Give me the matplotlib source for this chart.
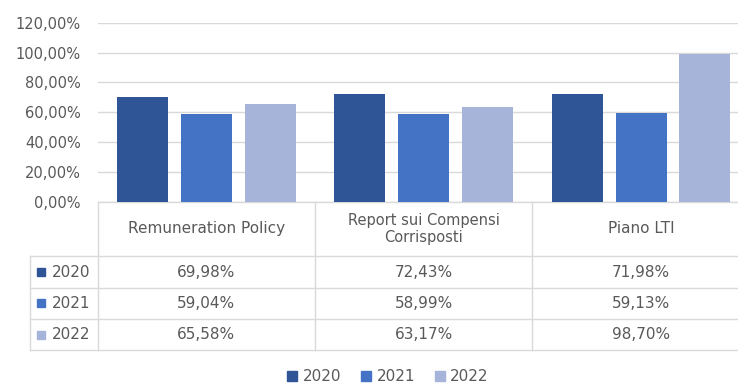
import matplotlib.pyplot as plt
import matplotlib.transforms as mtransforms
from matplotlib.patches import Rectangle

categories = ["Remuneration Policy", "Report sui Compensi\nCorrisposti", "Piano LTI"]
years = ["2020", "2021", "2022"]
v2020 = [69.98, 72.43, 71.98]
v2021 = [59.04, 58.99, 59.13]
v2022 = [65.58, 63.17, 98.70]
yticks = [0, 20, 40, 60, 80, 100, 120]

series = [v2020, v2021, v2022]
colors = ["#2F5597", "#4472C4", "#A5B4D8"]
text_col = "#595959"
grid_col = "#D9D9D9"

plt.rcParams['font.family'] = ['DejaVu Sans']


def pct(v):
    return f"{v:.2f}%".replace(".", ",")


fig = plt.figure(figsize=(7.38, 3.85), dpi=100)
# plot area runs a little past the right edge, as in the cropped original
ax = fig.add_axes([97.5 / 738, 1 - 201.7 / 385, 652.25 / 738, 179 / 385])

n = len(categories)
step = 0.294
width = 0.2345
for i, (vals, col) in enumerate(zip(series, colors)):
    xs = [c + (i - 1) * step for c in range(n)]
    ax.bar(xs, vals, width=width, color=col, zorder=3)

ax.set_xlim(-0.5, n - 0.5)
ax.set_ylim(0, 120)
ax.set_yticks(yticks)
ax.set_yticklabels([pct(t) for t in yticks])
ax.tick_params(axis='y', length=0, pad=12, labelsize=10.5, labelcolor=text_col)
ax.set_xticks([])
ax.grid(axis='y', color=grid_col, linewidth=1, zorder=0)
for s in ax.spines.values():
    s.set_visible(False)

# data table under the plot
row_edges = [0, -0.3034, -0.4821, -0.6553, -0.8285]
trans = mtransforms.blended_transform_factory(ax.transData, ax.transAxes)
lkw = dict(color=grid_col, linewidth=1, clip_on=False)

# horizontal lines
ax.plot([-0.5, n - 0.5], [0, 0], transform=trans, **lkw)
left_lbl = -0.5 - 67.5 / 217.5
for y in row_edges[1:]:
    ax.plot([left_lbl, n - 0.5], [y, y], transform=trans, **lkw)
# vertical lines
for c in range(n + 1):
    ax.plot([c - 0.5, c - 0.5], [0, row_edges[-1]], transform=trans, **lkw)
ax.plot([left_lbl, left_lbl], [row_edges[1], row_edges[-1]], transform=trans, **lkw)

# header
hy = (row_edges[0] + row_edges[1]) / 2
for c, name in enumerate(categories):
    fs = 10.5 if "\n" in name else 11
    ax.text(c, hy, name, transform=trans, ha='center', va='center',
            fontsize=fs, color=text_col)

# rows
for r, (yr, vals, col) in enumerate(zip(years, series, colors)):
    yc = (row_edges[r + 1] + row_edges[r + 2]) / 2
    mx = -0.5 - 56.5 / 217.5
    ax.add_patch(Rectangle((mx - 3.8 / 217.5, yc - 4 / 179), 8 / 217.5, 8 / 179,
                           transform=trans, color=col, clip_on=False))
    ax.text(-0.5 - 45.5 / 217.5, yc, yr, transform=trans, ha='left', va='center',
            fontsize=11, color=text_col)
    for c, v in enumerate(vals):
        ax.text(c, yc, pct(v), transform=trans, ha='center', va='center',
                fontsize=11, color=text_col)

# legend
handles = [Rectangle((0, 0), 1, 1, color=col) for col in colors]
fig.legend(handles, years, loc='center', bbox_to_anchor=(388 / 738, 8.5 / 385),
           ncol=3, frameon=False, fontsize=11, labelcolor=text_col,
           handlelength=0.65, handleheight=0.65, handletextpad=0.35,
           columnspacing=1.3, borderpad=0, borderaxespad=0)

fig.savefig("out.png", dpi=100)
